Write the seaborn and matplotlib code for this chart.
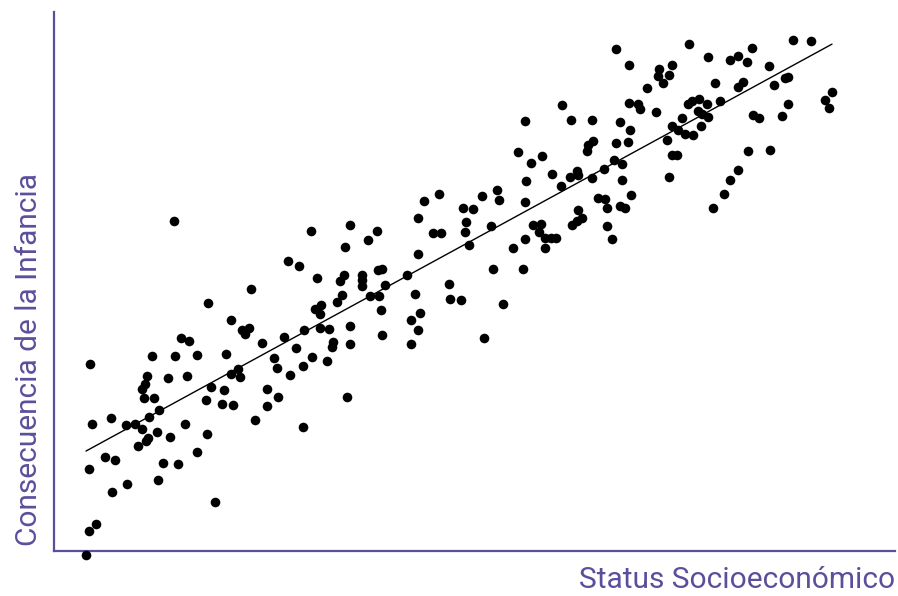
import matplotlib
matplotlib.use("Agg")
import matplotlib.pyplot as plt
import seaborn as sns
import numpy as np
import pandas as pd

# Values (arbitrary units)
status = [
    174, 208, 181, 189, 90, 152, 175, 197, 147, 168, 187, 145, 142, 144, 154, 92, 111, 126, 135, 142,
    149, 159, 206, 157, 170, 185, 207, 148, 146, 138, 105, 115, 89, 163, 178, 197, 127, 112, 158, 96,
    89, 86,
    311, 288, 299, 317, 340, 251, 315, 321, 320, 337, 231, 242, 249, 245, 304, 320, 329, 284, 262, 333,
    332, 296, 226, 274, 312, 327, 303, 277, 238, 231, 240, 290, 211, 224, 267, 278, 222, 233, 267, 255,
    303, 215,
    439, 424, 463, 466, 418, 350, 377, 368, 433, 441, 465, 469, 345, 418, 378, 382, 344, 362, 362, 362,
    385, 407, 449, 342, 370, 379, 415, 450, 461, 381, 420, 411, 418, 350, 382, 350, 411, 347,
    562, 525, 571, 592, 593, 588, 587, 518, 542, 531, 552, 577, 578, 570, 592, 526, 561, 497, 482, 499,
    525, 598, 473, 578, 582, 533, 541, 539, 491, 525, 513, 545, 551, 556, 545, 572, 577, 493, 523, 503,
    484,
    616, 689, 708, 730, 629, 672, 659, 669, 658, 663, 647, 715, 629, 638, 640, 656, 688, 692, 699, 707,
    720, 698, 702, 708, 682, 701, 672, 678, 685, 693, 620, 630, 667, 616, 628, 614, 622, 604, 622, 672,
    677, 669, 605, 607, 631, 620, 625, 607, 612, 730, 724, 713,
    793, 811, 752, 738, 747, 769, 788, 785, 743, 738, 774, 832, 825, 829, 788, 753, 759, 782, 748, 770,
    738,
]
consecuencia_px = [
    221, 303, 338, 341, 364, 356, 356, 355, 376, 378, 376, 384, 389, 398, 398, 424, 418, 425, 424, 429,
    417, 410, 400, 432, 437, 424, 434, 438, 441, 446, 457, 460, 469, 463, 464, 452, 484, 492, 480, 524,
    531, 555,
    231, 261, 266, 278, 281, 289, 309, 305, 314, 302, 320, 330, 328, 334, 330, 328, 329, 337, 343, 342,
    347, 348, 354, 358, 357, 361, 366, 368, 369, 374, 377, 375, 387, 390, 389, 397, 404, 405, 406, 420,
    427, 502,
    194, 201, 208, 222, 218, 225, 231, 240, 233, 233, 232, 245, 247, 254, 270, 269, 275, 275, 280, 286,
    285, 275, 284, 295, 296, 296, 294, 299, 300, 310, 313, 320, 330, 326, 335, 344, 344, 397,
    105, 121, 120, 120, 141, 145, 151, 152, 156, 163, 174, 171, 175, 177, 178, 181, 186, 190, 196, 200,
    202, 198, 209, 210, 218, 225, 224, 232, 226, 239, 248, 238, 238, 238, 248, 225, 221, 269, 269, 304,
    338,
    49, 44, 57, 60, 65, 65, 69, 75, 76, 83, 88, 83, 103, 104, 109, 112, 104, 101, 99, 104,
    101, 111, 114, 117, 118, 126, 126, 130, 134, 135, 122, 130, 140, 143, 142, 160, 164, 169, 180, 155,
    155, 177, 199, 208, 195, 206, 208, 226, 239, 180, 194, 208,
    40, 41, 48, 56, 62, 66, 77, 78, 82, 87, 85, 92, 100, 108, 104, 115, 118, 116, 151, 150,
    170,
]
consecuencia = [600 - v for v in consecuencia_px]

x_label = "Status Socioeconómico"
y_label = "Consecuencia de la Infancia"

df = pd.DataFrame({"status": status, "consecuencia": consecuencia})

sns.set_theme(style="white")
plt.rcParams["font.family"] = ["Roboto", "DejaVu Sans"]

purple = "#5b4f9c"

fig = plt.figure(figsize=(8.98, 5.96), dpi=100)
ax = fig.add_axes([54 / 898, (596 - 551) / 596, (895 - 54) / 898, (551 - 12) / 596])

sns.regplot(
    data=df, x="status", y="consecuencia", ax=ax, ci=None,
    scatter_kws={"s": 48, "color": "black", "linewidths": 0, "alpha": 1, "clip_on": False, "zorder": 3},
    line_kws={"color": "black", "linewidth": 1.0},
)

ax.set_xlim(54, 895)
ax.set_ylim(600 - 551, 600 - 12)
ax.set_xticks([])
ax.set_yticks([])
for s in ["top", "right"]:
    ax.spines[s].set_visible(False)
for s in ["left", "bottom"]:
    ax.spines[s].set_color(purple)
    ax.spines[s].set_linewidth(1.6)

ax.set_xlabel(x_label, loc="right", color=purple, fontsize=21.5, fontweight="normal", labelpad=11)
ax.set_ylabel(y_label, loc="bottom", color=purple, fontsize=21.5, fontweight="normal", labelpad=8)
ax.yaxis.label.set_y(0.01)

fig.savefig("out.png", dpi=100)
